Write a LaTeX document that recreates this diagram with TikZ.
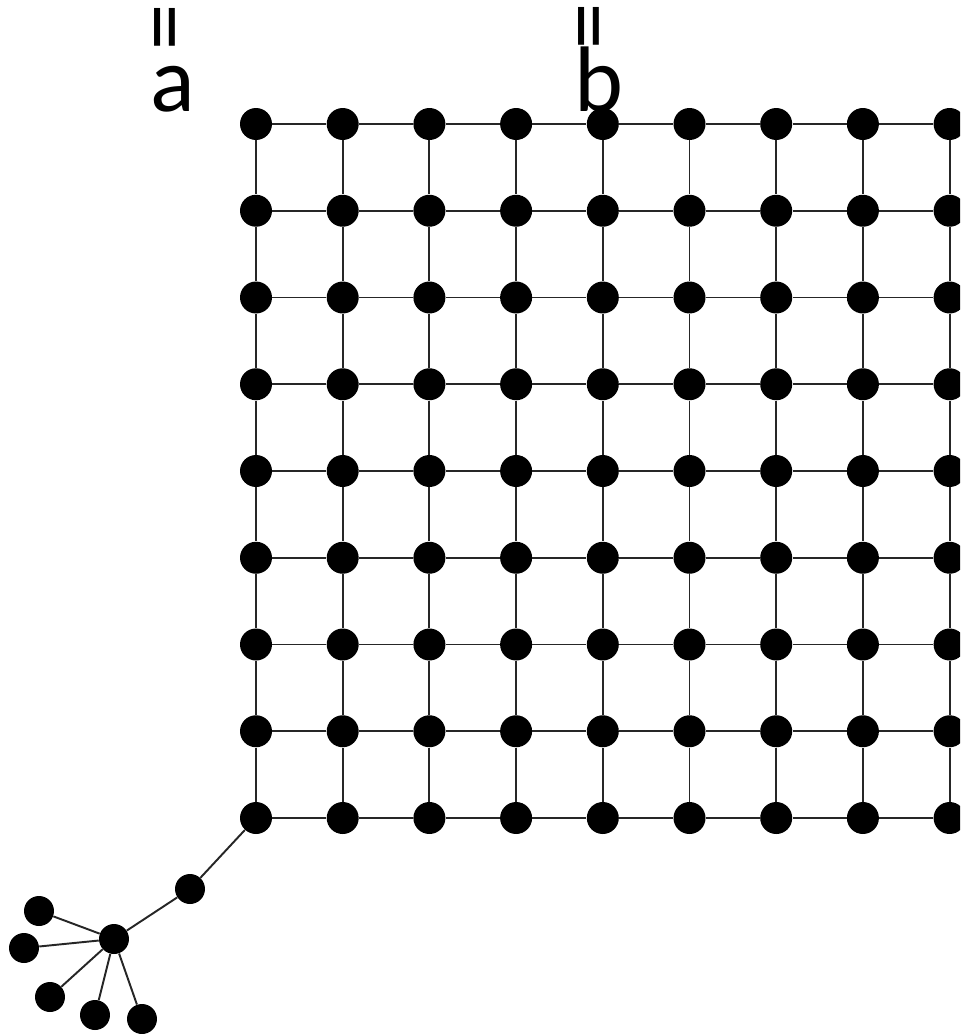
\documentclass[tikz,border=0pt]{standalone}
\usepackage{fontspec}
\setmainfont{Carlito}

\begin{document}
\begin{tikzpicture}[x=0.02cm, y=-0.02cm,
  dot/.style  = {circle, fill=black, inner sep=0pt, minimum size=0.64cm},
  leaf/.style = {circle, fill=black, inner sep=0pt, minimum size=0.6cm},
  link/.style = {line width=1.1pt, black!85},
  lbl/.style  = {font=\fontsize{53}{60}\selectfont, inner sep=0pt},
]
\useasboundingbox (0,0) rectangle (960,1034);
\clip (0,0) rectangle (960,1034);

% Grid nodes
\foreach \i in {0,...,8} {
  \foreach \j in {0,...,8} {
    \node[dot] (g-\i-\j) at (256+86.7*\i, 124+86.75*\j) {};
  }
}

% Grid links
\foreach \i in {0,...,7} {
  \pgfmathtruncatemacro{\k}{\i+1}
  \foreach \j in {0,...,8} {
    \draw[link] (g-\i-\j) -- (g-\k-\j);
    \draw[link] (g-\j-\i) -- (g-\j-\k);
  }
}

% Labels
\node[lbl, anchor=base] (a) at (173,112) {a};
\node[lbl, rotate=90] (a-eq) at (175,27) {=};
\node[lbl, anchor=base] (b) at (599,112) {b};
\node[lbl, rotate=90] (b-eq) at (599,26) {=};

% Tail and star
\node[leaf] (mid) at (190,889) {};
\node[leaf] (hub) at (114,939) {};
\node[leaf] (s1) at (39,911) {};
\node[leaf] (s2) at (24,948) {};
\node[leaf] (s3) at (50,997) {};
\node[leaf] (s4) at (95,1015) {};
\node[leaf] (s5) at (142,1019) {};

\draw[link] (g-0-8) -- (mid);
\draw[link] (mid) -- (hub);
\foreach \s in {1,...,5}
  \draw[link] (hub) -- (s\s);

\end{tikzpicture}
\end{document}
